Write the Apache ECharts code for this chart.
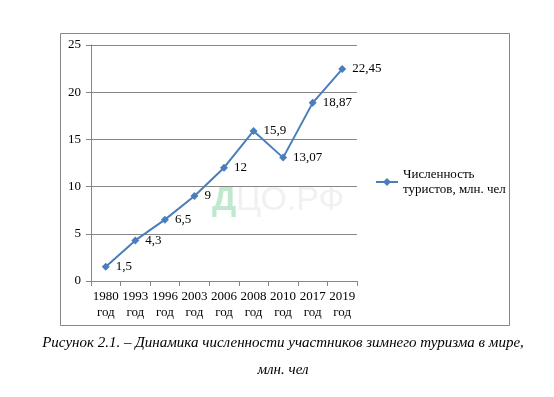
<!DOCTYPE html>
<html>
<head>
<meta charset="utf-8">
<script src="https://cdn.jsdelivr.net/npm/echarts@6/dist/echarts.min.js"></script>
<style>
  html, body { margin: 0; padding: 0; background: #fff; }
  #chart { width: 554px; height: 397px; }
</style>
</head>
<body>
<div id="chart"></div>
<script>
// годы (категории)
const years = ["1980", "1993", "1996", "2003", "2006", "2008", "2010", "2017", "2019"];
// численность туристов, млн. чел
const tourists = [1.5, 4.3, 6.5, 9, 12, 15.9, 13.07, 18.87, 22.45];
const seriesName = "Численность\nтуристов, млн. чел";
const yTicks = [0, 5, 10, 15, 20, 25];

const serif = "'Liberation Serif', 'DejaVu Serif', serif";
const myChart = echarts.init(document.getElementById("chart"));

myChart.setOption({
  animation: false,
  grid: { left: 91, right: 197, top: 45, bottom: 116 },
  // рамка, подпись, водяной знак
  graphic: [
    {
      type: "rect",
      shape: { x: 60.5, y: 33.5, width: 449, height: 292 },
      style: { fill: "none", stroke: "#868686", lineWidth: 1 },
      z: -1,
    },
    {
      type: "text",
      left: 212, top: 184,
      style: { text: "Д", font: "bold 34px 'Liberation Sans', sans-serif", fill: "rgba(130,210,160,0.5)" },
    },
    {
      type: "text",
      left: 236, top: 184,
      style: { text: "ЦО.РФ", font: "34px 'Liberation Sans', sans-serif", fill: "rgba(230,230,230,0.55)" },
    },
    {
      type: "text",
      x: 283, y: 343,
      style: {
        text: "Рисунок 2.1. – Динамика численности участников зимнего туризма в мире,",
        font: "italic 15px " + serif, fill: "#000", align: "center", verticalAlign: "middle",
      },
    },
    {
      type: "text",
      x: 283, y: 370,
      style: { text: "млн. чел", font: "italic 15px " + serif, fill: "#000", align: "center", verticalAlign: "middle" },
    },
  ],
  legend: {
    left: 371, top: 162,
    itemWidth: 22, itemHeight: 8, itemGap: 4,
    textStyle: { fontFamily: serif, fontSize: 13, color: "#000", lineHeight: 15 },
    data: [{ name: seriesName, icon: "image://data:image/svg+xml;utf8," + encodeURIComponent('<svg xmlns="http://www.w3.org/2000/svg" width="22" height="8"><line x1="0" y1="4" x2="22" y2="4" stroke="#4a7ebb" stroke-width="2"/><path d="M11 0L15 4L11 8L7 4Z" fill="#4a7ebb"/></svg>') }],
  },
  xAxis: {
    type: "category",
    data: years,
    boundaryGap: true,
    axisLine: { lineStyle: { color: "#868686" } },
    axisTick: { show: true, interval: 0, length: 5, lineStyle: { color: "#868686" } },
    axisLabel: {
      interval: 0,
      margin: 8,
      fontFamily: serif, fontSize: 13, color: "#000", lineHeight: 16,
      formatter: (v) => v + "\nгод",
    },
  },
  yAxis: {
    type: "value",
    min: yTicks[0], max: yTicks[yTicks.length - 1], interval: 5,
    axisLine: { show: true, lineStyle: { color: "#868686" } },
    axisTick: { show: true, length: 5, lineStyle: { color: "#868686" } },
    splitLine: { lineStyle: { color: "#868686" } },
    axisLabel: { margin: 10, fontFamily: serif, fontSize: 13, color: "#000" },
  },
  series: [
    {
      name: seriesName,
      type: "line",
      data: tourists,
      symbol: "diamond",
      symbolSize: 8,
      itemStyle: { color: "#4a7ebb" },
      lineStyle: { color: "#4a7ebb", width: 2 },
      label: {
        show: true,
        position: "right",
        distance: 6,
        fontFamily: serif, fontSize: 13, color: "#000",
        formatter: (p) => String(p.value).replace(".", ","),
      },
    },
  ],
});
</script>
</body>
</html>
